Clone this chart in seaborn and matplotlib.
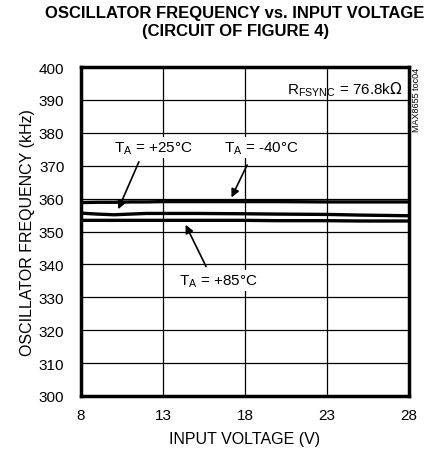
import pandas as pd
import matplotlib
matplotlib.use("Agg")
import matplotlib.pyplot as plt
import seaborn as sns

# data
voltage = [8, 9, 10, 11, 12, 13, 15, 18, 20, 23, 25, 28]
freq_m40 = [358.8, 358.9, 358.9, 359.0, 359.0, 359.1, 359.1, 359.1, 359.1, 359.0, 359.0, 359.0]
freq_p25 = [355.6, 355.3, 355.1, 355.3, 355.5, 355.5, 355.5, 355.4, 355.3, 355.2, 355.0, 354.8]
freq_p85 = [353.4, 353.4, 353.4, 353.4, 353.4, 353.4, 353.4, 353.4, 353.3, 353.3, 353.2, 353.2]

x_ticks = [8, 13, 18, 23, 28]
y_ticks = list(range(300, 401, 10))

df = pd.concat([
    pd.DataFrame({"V": voltage, "f": freq_m40, "T": "-40"}),
    pd.DataFrame({"V": voltage, "f": freq_p25, "T": "+25"}),
    pd.DataFrame({"V": voltage, "f": freq_p85, "T": "+85"}),
])

sns.set_style("white")
plt.rcParams['font.family'] = ['Liberation Sans', 'DejaVu Sans']
plt.rcParams['text.color'] = 'black'
plt.rcParams['axes.labelcolor'] = 'black'
plt.rcParams['xtick.color'] = 'black'
plt.rcParams['ytick.color'] = 'black'

fig = plt.figure(figsize=(4.37, 4.6), dpi=100)
ax = fig.add_axes([0.1854, 0.137, 0.7506, 0.715])

sns.lineplot(data=df, x="V", y="f", hue="T", palette=["black"] * 3,
             linewidth=2.4, legend=False, ax=ax)

ax.set_xlim(8, 28)
ax.set_ylim(300, 400)
ax.set_xticks(x_ticks)
ax.set_yticks(y_ticks)
ax.grid(True, color="black", linewidth=0.9)
ax.set_axisbelow(True)
for s in ax.spines.values():
    s.set_linewidth(2.5)
    s.set_color("black")
ax.tick_params(axis="y", length=0, labelsize=11, pad=12)
ax.tick_params(axis="x", length=0, labelsize=11, pad=9)

ax.set_xlabel("INPUT VOLTAGE (V)", fontsize=11.5, labelpad=6)
ax.set_ylabel("OSCILLATOR FREQUENCY (kHz)", fontsize=11.5, labelpad=3)
fig.suptitle("OSCILLATOR FREQUENCY vs. INPUT VOLTAGE\n(CIRCUIT OF FIGURE 4)",
             x=0.538, y=0.988, va="top", fontsize=12, fontweight="bold", linespacing=1.3)

arrow = dict(arrowstyle="-|>", color="black", lw=1.2, mutation_scale=12)
ax.annotate("", xy=(10.2, 356.0), xytext=(11.6, 372), arrowprops=arrow)
ax.annotate("", xy=(17.1, 359.6), xytext=(18.2, 371), arrowprops=arrow)
ax.annotate("", xy=(14.3, 352.8), xytext=(15.7, 338.6), arrowprops=arrow)

box = dict(facecolor="white", edgecolor="none", pad=1.5)
ax.text(12.4, 375.5, r"T$_\mathregular{A}$ = +25°C", ha="center", va="center",
        fontsize=11, bbox=box)
ax.text(19.0, 375.5, r"T$_\mathregular{A}$ = -40°C", ha="center", va="center",
        fontsize=11, bbox=box)
ax.text(16.4, 335.0, r"T$_\mathregular{A}$ = +85°C", ha="center", va="center",
        fontsize=11, bbox=box)
ax.text(27.6, 393.5, r"R$_\mathregular{FSYNC}$ = 76.8k$\Omega$", ha="right", va="center",
        fontsize=11)
fig.text(0.953, 0.852, "MAX8655 toc04", rotation=90, ha="center", va="top", fontsize=6.5)

fig.savefig("out.png", dpi=100)
